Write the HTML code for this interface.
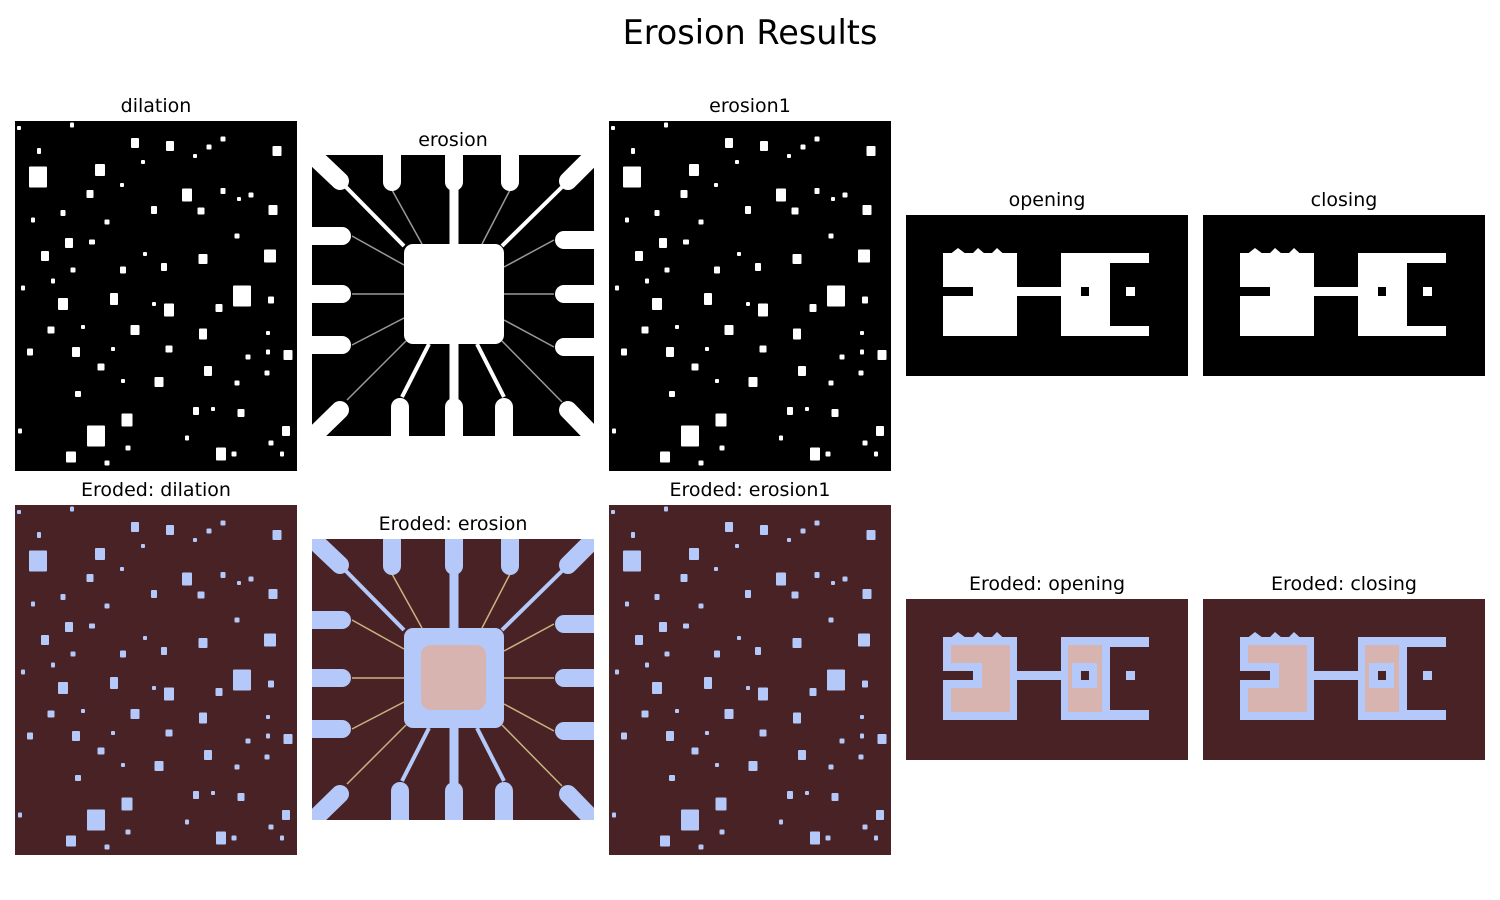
<!DOCTYPE html>
<html><head><meta charset="utf-8"><style>
body{margin:0;background:#fff;width:1500px;height:900px;overflow:hidden}
svg{display:block}
text{font-family:"DejaVu Sans","Liberation Sans",sans-serif;fill:#000}
</style></head><body>
<svg id="root" width="1500" height="900" viewBox="0 0 1500 900">
<defs><clipPath id="chipclip"><rect x="0" y="0" width="282" height="281"/></clipPath></defs>
<text x="750" y="44" font-size="33.5" text-anchor="middle">Erosion Results</text>
</svg>
<script>
const dots = [[4,7,4,4],[57,4,4,5],[120,22,8,10],[155,25,8,10],[208,18,5,5],[194,26,5,5],[180,35,4,4],[262,30,9,10],[24,30,4,6],[128,41,4,4],[23,56,18,21],[85,49,10,12],[107,64,4,4],[75,73,7,8],[172,74,10,13],[208,70,5,6],[224,78,4,4],[236,74,5,5],[139,89,6,8],[186,90,7,7],[48,92,5,6],[18,99,4,5],[92,101,5,5],[258,89,9,10],[222,115,5,5],[54,122,8,10],[30,135,8,10],[77,121,6,5],[130,133,4,4],[188,138,9,10],[255,135,12,13],[149,146,6,8],[108,149,6,7],[58,149,5,5],[38,160,4,5],[8,167,4,5],[227,175,18,21],[256,179,6,7],[99,178,8,12],[48,183,10,12],[154,189,10,13],[139,183,4,4],[204,187,7,8],[36,209,7,7],[68,206,4,4],[120,209,9,10],[188,213,8,11],[253,212,4,4],[15,231,6,7],[61,231,8,10],[98,228,4,4],[154,228,7,7],[253,231,4,5],[273,234,9,10],[233,236,5,5],[86,246,7,7],[193,250,8,10],[252,252,5,5],[108,260,4,4],[144,261,9,10],[222,262,5,5],[63,273,6,6],[112,299,11,13],[181,290,6,8],[198,288,4,4],[226,292,7,8],[5,310,4,5],[81,315,18,21],[271,310,8,10],[172,317,4,5],[113,327,5,5],[256,322,5,5],[56,336,10,11],[206,333,10,13],[219,333,5,5],[92,342,5,5],[267,333,4,5]];
const panels = [
 ["dilation","dots",15,121,282,350,false],
 ["erosion","chip",312,155,282,281,false],
 ["erosion1","dots",609,121,282,350,false],
 ["opening","shape",906,215,282,161,false],
 ["closing","shape",1203,215,282,161,false],
 ["Eroded: dilation","dots",15,505,282,350,true],
 ["Eroded: erosion","chip",312,539,282,281,true],
 ["Eroded: erosion1","dots",609,505,282,350,true],
 ["Eroded: opening","shape",906,599,282,161,true],
 ["Eroded: closing","shape",1203,599,282,161,true]
];
const NS="http://www.w3.org/2000/svg";
const root=document.getElementById('root');
function mk(tag,attrs,parent){const e=document.createElementNS(NS,tag);for(const k in attrs)e.setAttribute(k,attrs[k]);parent.appendChild(e);return e;}
panels.forEach(p=>{
 const [title,kind,x,y,w,h,er]=p;
 const bg=er?'#482224':'#000', fg=er?'#b4c8fa':'#fff', pk='#d8b4b0';
 const slug=title.toLowerCase().replace(/[^a-z0-9]+/g,'-');
 const t=mk('text',{x:x+w/2,y:y-9,'font-size':'19','text-anchor':'middle'},root);
 t.textContent=title;
 
 
 const g=mk('g',{transform:`translate(${x},${y})`},root);
 
 
 mk('rect',{x:0,y:0,width:w,height:h,fill:bg},g);
 if(kind==='dots'){
  dots.forEach(d=>{const r=mk('rect',{x:d[0]-d[2]/2,y:d[1]-d[3]/2,width:d[2],height:d[3],rx:1,fill:fg},g);
   
   });
 } else if(kind==='chip'){
  const c=mk('g',{'clip-path':'url(#chipclip)'},g);
  const thin=er?'#c8b480':'#999';
  const L=(x1,y1,x2,y2,sw,col,cap)=>mk('line',{x1,y1,x2,y2,stroke:col,'stroke-width':sw,'stroke-linecap':cap||'butt'},c);
  [[80,35,110,89],[198,35,170,89],[40,81,92,110],[40,139,92,139],[40,190,92,163],[242,85,192,112],[242,139,192,139],[242,192,192,165],[35,245,94,186],[250,247,190,186]].forEach(l=>L(...l,1.5,thin));
  [[28,26,92,91],[250,32,190,91],[117,189,90,242],[165,189,192,242]].forEach(l=>L(...l,4,fg));
  L(142,20,142,92,9,fg); L(142,186,142,260,9,fg);
  [[80,-20,80,27],[142,-20,142,27],[198,-20,198,27],[88,300,88,252],[142,300,142,252],[192,300,192,252],[-20,81,30,81],[-20,139,30,139],[-20,190,30,190],[300,85,252,85],[300,139,252,139],[300,192,252,192],[-10,-10,28,26],[292,-10,256,26],[-10,292,28,255],[292,292,256,255]].forEach(l=>L(...l,18,fg,'round'));
  mk('rect',{x:92,y:89,width:100,height:100,rx:9,fill:fg},c);
  if(er) mk('rect',{x:109,y:106,width:65,height:65,rx:10,fill:pk},c);
 } else {
  mk('rect',{x:37,y:38,width:74,height:83,fill:fg},g);
  mk('polygon',{points:'45,38.5 52,33 60,39 66,39 72,33 79,39 85,39 91,33 97,38.5',fill:fg},g);
  mk('rect',{x:111,y:72,width:44,height:9,fill:fg},g);
  mk('rect',{x:155,y:38,width:88,height:10,fill:fg},g);
  mk('rect',{x:155,y:111,width:88,height:10,fill:fg},g);
  mk('rect',{x:155,y:38,width:49,height:83,fill:fg},g);
  mk('rect',{x:220,y:72,width:9,height:9,fill:fg},g);
  if(er){
   mk('polygon',{points:'45,46 104,46 104,113 45,113 45,89 76,89 76,64 45,64',fill:pk},g);
   mk('rect',{x:162,y:46,width:34,height:67,fill:pk},g);
   mk('rect',{x:166,y:64,width:25,height:25,fill:fg},g);
  }
  mk('rect',{x:37,y:72,width:30,height:9,fill:bg},g);
  mk('rect',{x:175,y:72,width:8,height:9,fill:bg},g);
 }
});
</script>
</body></html>
